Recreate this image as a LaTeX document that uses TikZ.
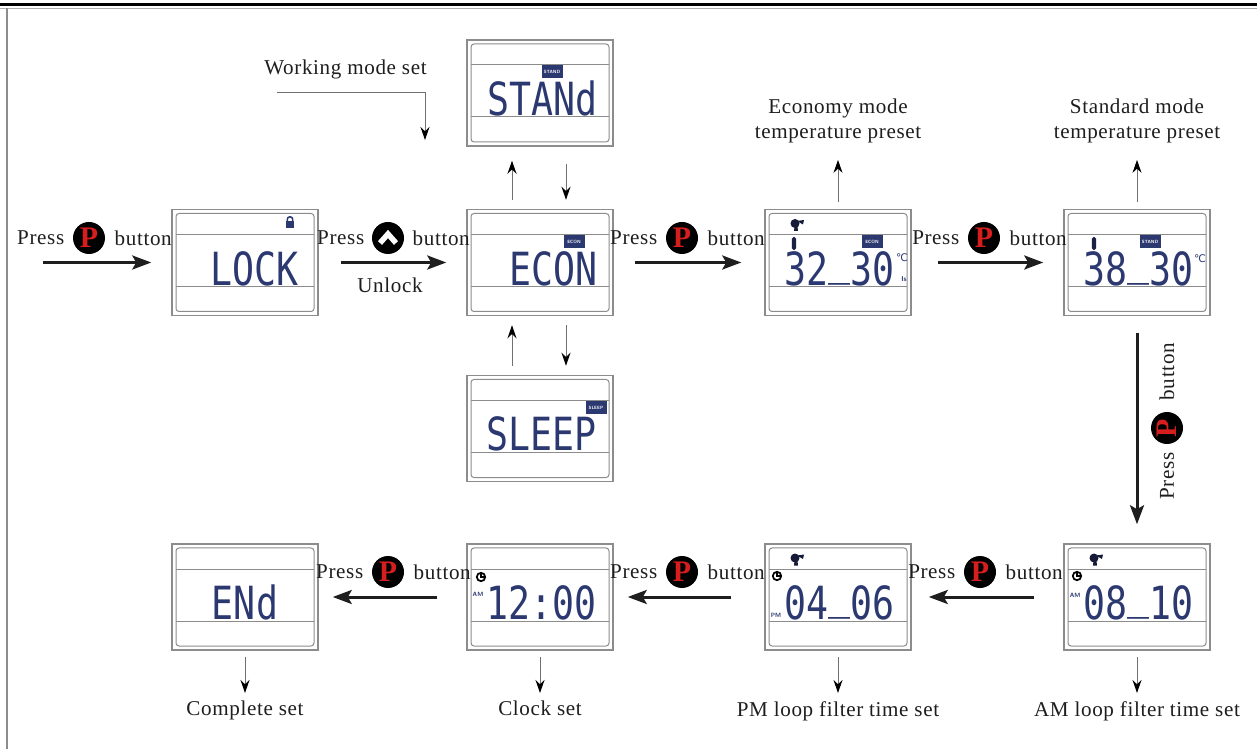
\documentclass[tikz,border=0pt]{standalone}
\usepackage{fontspec}
\usetikzlibrary{arrows.meta,positioning}
\newfontfamily\lblfont{Liberation Serif}[LetterSpace=3.0]
\newfontfamily\pfont{Liberation Serif}
\newfontfamily\segfont{DejaVu Sans Mono}[FakeStretch=0.8]
\newfontfamily\iconfont{DejaVu Sans}
\definecolor{lcdblue}{RGB}{44,56,112}
\definecolor{framegray}{RGB}{140,140,140}
\definecolor{pred}{RGB}{215,30,30}
\definecolor{txt}{RGB}{30,30,30}
\newcommand\lcdbar{\raisebox{0.24em}{\_}}
\tikzset{
  lcd/.style={draw=framegray, line width=0.3mm, minimum width=29.2mm, minimum height=21.2mm, inner sep=0,
    path picture={
      \draw[framegray, line width=0.2mm, rounded corners=0.6mm]
        ([shift={(0.8mm,-0.8mm)}]path picture bounding box.north west) rectangle
        ([shift={(-0.8mm,0.8mm)}]path picture bounding box.south east);
      \draw[framegray, line width=0.2mm]
        ([shift={(0.8mm,-5mm)}]path picture bounding box.north west) --
        ([shift={(-0.8mm,-5mm)}]path picture bounding box.north east);
      \draw[framegray, line width=0.2mm]
        ([shift={(0.8mm,5.8mm)}]path picture bounding box.south west) --
        ([shift={(-0.8mm,5.8mm)}]path picture bounding box.south east);
    }},
  seg/.style={font=\segfont\fontsize{26}{26}\selectfont, text=lcdblue, inner sep=0, anchor=base east},
  badge/.style={fill=lcdblue, text=white, font=\sffamily\bfseries\fontsize{2.6}{3}\selectfont,
    minimum width=4.2mm, minimum height=2.6mm, inner sep=0},
  tinytxt/.style={text=lcdblue, font=\sffamily\bfseries\fontsize{3.5}{4}\selectfont, inner sep=0},
  lbl/.style={font=\lblfont\fontsize{12}{14.2}\selectfont, text=txt, inner sep=0},
  pbtn/.style={circle, fill=black, minimum size=6.4mm, inner sep=0, text=pred,
    font=\pfont\bfseries\fontsize{17}{17}\selectfont},
  upbtn/.style={circle, fill=black, minimum size=6.4mm, inner sep=0},
  mainarrow/.style={draw=txt, line width=0.6mm, -{Stealth[length=3.8mm, width=2.8mm, inset=0.8mm]}},
  thinarrow/.style={draw=framegray!80!black, line width=0.2mm, -{Stealth[length=2.6mm, width=1.8mm, color=black]}},
  fan/.pic={
    \fill[lcdblue!50!black] (-1,0) circle (4.5);
    \fill[lcdblue!50!black] (1,-2.5) -- (8,-3.5) -- (7,1) -- cycle;
    \fill[lcdblue!50!black] (-1.5,3) -- (1.5,3) -- (2,7.5) -- (-2,7.5) -- cycle;},
  clockicon/.pic={
    \draw[black, line width=0.35mm] (0,0) circle (4.2);
    \draw[black, line width=0.3mm] (0,-3) -- (0,0) -- (2.6,0);},
  thermo/.pic={
    \fill[lcdblue!60!black, rounded corners=0.35mm] (-2.2,-6.5) rectangle (2.2,6.5);},
  padlock/.pic={
    \fill[lcdblue] (-4,-1) rectangle (4,6);
    \draw[lcdblue, line width=0.3mm, rounded corners=0.4mm] (-2.6,-1) -- (-2.6,-5.5) -- (2.6,-5.5) -- (2.6,-1);}
}
\begin{document}
\begin{tikzpicture}[x=0.2mm, y=-0.2mm]
  \useasboundingbox (0,0) rectangle (1257,749);
  \fill[white] (0,0) rectangle (1257,749);
  \draw[black, line width=0.6mm] (0,4.5) -- (1257,4.5);
  \draw[framegray!70, line width=0.2mm] (0,8.5) -- (1257,8.5);
  \draw[framegray, line width=0.3mm] (7,8.5) -- (7,749);

  \node[lcd] (lock) at (245,262.5) {};
  \node[lcd] (econ) at (540,262.5) {};
  \node[lcd] (stand) at (540,93) {};
  \node[lcd] (sleep) at (540,428.5) {};
  \node[lcd] (ecopre) at (838,262.5) {};
  \node[lcd] (stdpre) at (1137,262.5) {};
  \node[lcd] (amf) at (1137,597) {};
  \node[lcd] (pmf) at (838,597) {};
  \node[lcd] (clk) at (540,597) {};
  \node[lcd] (done) at (245,597) {};

  \node[seg] (lockt) at ([shift={(-20,23)}]lock.east) {LOCK};
  \node[seg] (econt) at ([shift={(-16,23)}]econ.east) {ECON};
  \node[seg] (standt) at ([shift={(-16,23)}]stand.east) {STANd};
  \node[seg] (sleept) at ([shift={(-17,22)}]sleep.east) {SLEEP};
  \node[seg] (ecoprt) at ([shift={(-17,23)}]ecopre.east) {32\lcdbar30};
  \node[seg] (stdprt) at ([shift={(-17,23)}]stdpre.east) {38\lcdbar30};
  \node[seg] (amft) at ([shift={(-17,22)}]amf.east) {08\lcdbar10};
  \node[seg] (pmft) at ([shift={(-17,22)}]pmf.east) {04\lcdbar06};
  \node[seg] (clkt) at ([shift={(-17,22)}]clk.east) {12:00};
  \node[seg, anchor=base] (donet) at ([shift={(0,22)}]done.center) {ENd};

  \pic at ([shift={(45,-40)}]lock.center) {padlock};
  \node[badge] (standb) at ([shift={(12,-21)}]stand.center) {STAND};
  \node[badge] (econb) at ([shift={(34,-21)}]econ.center) {ECON};
  \node[badge] (sleepb) at ([shift={(56,-21)}]sleep.center) {SLEEP};
  \node[badge] (ecoprb) at ([shift={(34,-21)}]ecopre.center) {ECON};
  \node[badge] (stdprb) at ([shift={(13,-21)}]stdpre.center) {STAND};
  \pic at ([shift={(-42,-39)}]ecopre.center) {fan};
  \pic at ([shift={(-44,-19)}]ecopre.center) {thermo};
  \pic at ([shift={(-43,-19)}]stdpre.center) {thermo};
  \node[tinytxt, font=\iconfont\fontsize{6}{6}\selectfont] (ecoprc) at ([shift={(64,-5)}]ecopre.center) {℃};
  \node[tinytxt, font=\iconfont\fontsize{6}{6}\selectfont] (stdprc) at ([shift={(63,-4)}]stdpre.center) {℃};
  \node[tinytxt, font=\sffamily\bfseries\fontsize{4}{4}\selectfont] (ecopri) at ([shift={(66,17)}]ecopre.center) {Is};
  \pic at ([shift={(-42,-39)}]pmf.center) {fan};
  \pic at ([shift={(-42,-39)}]amf.center) {fan};
  \pic at ([shift={(-59,-20)}]clk.center) {clockicon};
  \pic at ([shift={(-61,-21)}]pmf.center) {clockicon};
  \pic at ([shift={(-60,-21)}]amf.center) {clockicon};
  \node[tinytxt] (clkam) at ([shift={(-62,-3)}]clk.center) {AM};
  \node[tinytxt] (pmfpm) at ([shift={(-62,18)}]pmf.center) {PM};
  \node[tinytxt] (amfam) at ([shift={(-62,-2)}]amf.center) {AM};

  \coordinate (start) at (43,262.5);
  \draw[mainarrow, shorten >=4mm] (start) -- (lock);
  \draw[mainarrow, shorten <=4.4mm, shorten >=4mm] (lock) -- (econ);
  \draw[mainarrow, shorten <=4.2mm, shorten >=4.6mm] (econ) -- (ecopre);
  \draw[mainarrow, shorten <=5.2mm, shorten >=4mm] (ecopre) -- (stdpre);
  \draw[mainarrow, shorten <=3.4mm, shorten >=3.8mm] (stdpre) -- (amf);
  \draw[mainarrow, shorten <=5.8mm, shorten >=3.4mm] (amf) -- (pmf);
  \draw[mainarrow, shorten <=6.6mm, shorten >=2.8mm] (pmf) -- (clk);
  \draw[mainarrow, shorten <=5.8mm, shorten >=2.8mm] (clk) -- (done);

  \node[pbtn] (p1) at (89,238) {P};
  \node[lbl, left=1.6mm of p1] (pr1) {Press};
  \node[lbl, right=1.8mm of p1] (bt1) {button};
  \node[upbtn] (p2) at (388,238) {};
  \draw[white, line width=1.1mm] ([shift={(-8,5)}]p2.center) -- ([shift={(0,-4)}]p2.center) -- ([shift={(8,5)}]p2.center);
  \node[lbl, left=1.4mm of p2] (pr2) {Press};
  \node[lbl, right=1.6mm of p2] (bt2) {button};
  \node[lbl] (unl) at (390,285) {Unlock};
  \node[pbtn] (p3) at (682,238) {P};
  \node[lbl, left=1.6mm of p3] (pr3) {Press};
  \node[lbl, right=1.8mm of p3] (bt3) {button};
  \node[pbtn] (p4) at (984,238) {P};
  \node[lbl, left=1.6mm of p4] (pr4) {Press};
  \node[lbl, right=1.8mm of p4] (bt4) {button};
  \node[pbtn, rotate=90] (p5) at (1167,428) {P};
  \node[lbl, rotate=90, anchor=east] (pr5) at ([yshift=-1.6mm]p5.west) {Press};
  \node[lbl, rotate=90, anchor=west] (bt5) at ([yshift=2.2mm]p5.east) {button};
  \node[pbtn] (p6) at (980,572) {P};
  \node[lbl, left=1.6mm of p6] (pr6) {Press};
  \node[lbl, right=1.8mm of p6] (bt6) {button};
  \node[pbtn] (p7) at (682,572) {P};
  \node[lbl, left=1.6mm of p7] (pr7) {Press};
  \node[lbl, right=1.8mm of p7] (bt7) {button};
  \node[pbtn] (p8) at (388,572) {P};
  \node[lbl, left=1.6mm of p8] (pr8) {Press};
  \node[lbl, right=1.8mm of p8] (bt8) {button};

  \draw[thinarrow] ([shift={(-28,-9)}]econ.north) -- ([shift={(-28,14)}]stand.south);
  \draw[thinarrow] ([shift={(26,17)}]stand.south) -- ([shift={(26,-9)}]econ.north);
  \draw[thinarrow] ([shift={(-28,-9)}]sleep.north) -- ([shift={(-28,9)}]econ.south);
  \draw[thinarrow] ([shift={(26,9)}]econ.south) -- ([shift={(26,-9)}]sleep.north);

  \node[lbl] (wmlbl) at (345.5,69) {Working mode set};
  \coordinate (wmA) at (277,93);
  \coordinate (wmB) at (425,140);
  \draw[thinarrow] (wmA) -| (wmB);

  \node[lbl, align=center] (ecolbl) at (838,120.5) {Economy mode\\temperature preset};
  \node[lbl, align=center] (stdlbl) at (1137,120.5) {Standard mode\\temperature preset};
  \draw[thinarrow, shorten <=1.4mm, shorten >=3.4mm] (ecopre) -- (ecolbl);
  \draw[thinarrow, shorten <=1.4mm, shorten >=3.4mm] (stdpre) -- (stdlbl);

  \node[lbl, anchor=north] (donelbl) at (245,701) {Complete set};
  \node[lbl, anchor=north] (clklbl) at (540,701) {Clock set};
  \node[lbl, anchor=north] (pmlbl) at (838,701) {PM loop filter time set};
  \node[lbl, anchor=north] (amlbl) at (1137,701) {AM loop filter time set};
  \draw[thinarrow, shorten <=1.2mm, shorten >=1.6mm] (done) -- (donelbl);
  \draw[thinarrow, shorten <=1.2mm, shorten >=1.6mm] (clk) -- (clklbl);
  \draw[thinarrow, shorten <=1.2mm, shorten >=1.6mm] (pmf) -- (pmlbl);
  \draw[thinarrow, shorten <=1.2mm, shorten >=1.6mm] (amf) -- (amlbl);
\end{tikzpicture}
\end{document}
